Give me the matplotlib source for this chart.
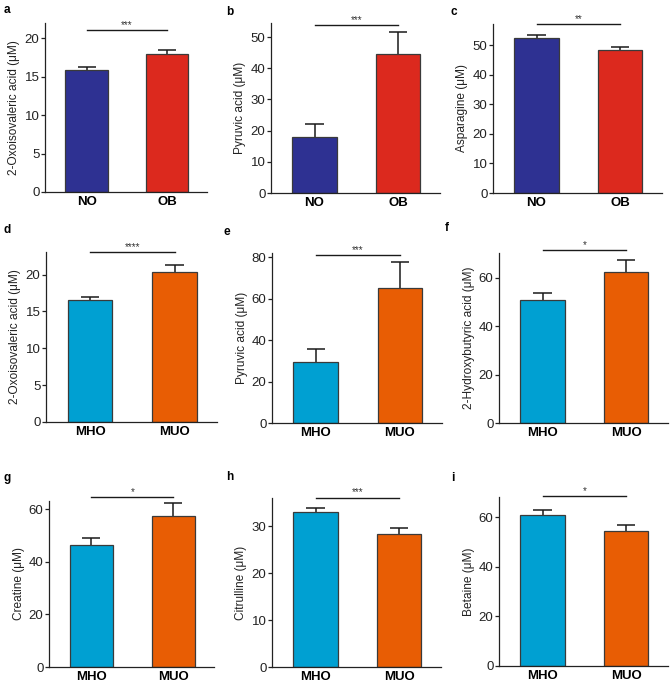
import matplotlib
matplotlib.use("Agg")
import matplotlib.pyplot as plt

plt.rcParams['font.family'] = ['Liberation Sans', 'DejaVu Sans']

# ── Data ───────────────────────────────────────────────────
PANELS      = ["a", "b", "c", "d", "e", "f", "g", "h", "i"]
GROUPS_1    = ["NO", "OB"]
GROUPS_2    = ["MHO", "MUO"]
YLABELS     = ["2-Oxoisovaleric acid (\u03bcM)", "Pyruvic acid (\u03bcM)", "Asparagine (\u03bcM)",
               "2-Oxoisovaleric acid (\u03bcM)", "Pyruvic acid (\u03bcM)", "2-Hydroxybutyric acid (\u03bcM)",
               "Creatine (\u03bcM)", "Citrulline (\u03bcM)", "Betaine (\u03bcM)"]
MEANS       = [[15.9, 18.0], [18.0, 44.6], [52.4, 48.4],
               [16.5, 20.3], [29.4, 64.9], [50.9, 62.3],
               [46.6, 57.3], [33.1, 28.4], [61.0, 54.2]]
SEM         = [[0.35, 0.5], [4.2, 7.0], [0.9, 0.9],
               [0.4, 1.0], [6.5, 13.0], [2.7, 5.2],
               [2.6, 5.1], [0.8, 1.3], [1.9, 2.6]]
STARS       = ["***", "***", "**", "****", "***", "*", "*", "***", "*"]
SIG_Y       = [21.1, 53.9, 57.1, 23.0, 80.9, 71.5, 64.8, 36.1, 68.5]
YMAX        = [22.0, 54.5, 57.1, 23.06, 82.0, 70.2, 63.2, 36.0, 68.1]
YTICKS      = [range(0, 21, 5), range(0, 51, 10), range(0, 51, 10),
               range(0, 21, 5), range(0, 81, 20), range(0, 61, 20),
               range(0, 61, 20), range(0, 31, 10), range(0, 61, 20)]

COLORS_1 = ['#2E3192', '#DC291E']
COLORS_2 = ['#00A0D2', '#E85D04']

# axes boxes in pixels: (x_left, x_right, y_top, y_bottom)
BOXES = [(45, 207, 23, 192), (271, 440, 23, 193), (493, 662, 24, 193),
         (46, 217, 252, 422), (272, 442, 253, 423), (499, 668, 253, 423),
         (49, 214, 501, 667), (272, 441, 498, 667), (499, 668, 497, 666)]
LABEL_POS = [(4, 10), (226, 12), (450, 12),
             (4, 230), (224, 232), (445, 228),
             (4, 478), (226, 477), (451, 478)]

W, H = 670, 683
fig = plt.figure(figsize=(W / 100, H / 100), dpi=100)

for k in range(9):
    x0, x1, yt, yb = BOXES[k]
    ax = fig.add_axes([x0 / W, (H - yb) / H, (x1 - x0) / W, (yb - yt) / H])
    groups = GROUPS_1 if k < 3 else GROUPS_2
    colors = COLORS_1 if k < 3 else COLORS_2
    xs = [0, 1]
    ax.bar(xs, MEANS[k], width=0.53, color=colors, edgecolor='#3a3a3a',
           linewidth=0.9, zorder=2)
    # upper-only error bars with a cap
    tops = [m + e for m, e in zip(MEANS[k], SEM[k])]
    ax.vlines(xs, MEANS[k], tops, color='#1a1a1a', lw=1.1, zorder=1)
    ax.hlines(tops, [x - 0.11 for x in xs], [x + 0.11 for x in xs],
              color='#1a1a1a', lw=1.1, zorder=1)
    ax.set_xlim(-0.52, 1.5)
    ax.set_ylim(0, YMAX[k])
    ax.set_yticks(list(YTICKS[k]))
    ax.set_xticks(xs)
    ax.set_xticklabels(groups, fontsize=9.5, fontweight='bold')
    ax.tick_params(axis='x', length=0, pad=3)
    ax.tick_params(axis='y', length=3, width=0.9, labelsize=9.5, pad=1,
                   colors='#222222')
    for s in ['top', 'right']:
        ax.spines[s].set_visible(False)
    for s in ['left', 'bottom']:
        ax.spines[s].set_linewidth(0.9)
        ax.spines[s].set_color('#222222')
    ax.set_ylabel(YLABELS[k], fontsize=8.6, labelpad=3, color='#222222')

    ax.plot([0, 1], [SIG_Y[k], SIG_Y[k]], color='#1a1a1a', lw=1.0,
            clip_on=False)
    ax.text(0.5, SIG_Y[k], STARS[k], ha='center', va='bottom', fontsize=7,
            color='#333333')

    lx, ly = LABEL_POS[k]
    fig.text(lx / W, 1 - ly / H, PANELS[k], fontsize=8.5, fontweight='bold',
             va='center', ha='left')

fig.savefig("out.png", dpi=100, facecolor='white')
